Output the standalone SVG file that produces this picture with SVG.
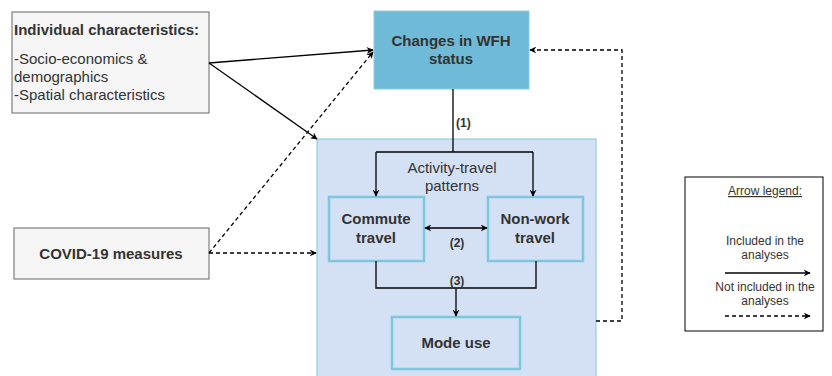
<svg xmlns="http://www.w3.org/2000/svg" width="832" height="376" viewBox="0 0 832 376">
<style>
text{font-family:"Liberation Sans",Arial,sans-serif;fill:#333}
.b{font-weight:bold;font-size:15px}
.r{font-size:15px}
.s{font-size:12px;font-weight:bold}
.l{font-size:12px}
.c{text-anchor:middle}
.ln{fill:none;stroke:#000;stroke-width:1.3}
.d{stroke-dasharray:4 3}
.inner{fill:none;stroke:#7ec5de;stroke-width:2.5}
</style>
<defs>
<marker id="a" viewBox="0 0 10 10" refX="9" refY="5" markerWidth="7" markerHeight="7" orient="auto" markerUnits="userSpaceOnUse">
<path d="M0,0 L10,5 L0,10 L3,5 Z" fill="#000"/>
</marker>
<marker id="as" viewBox="0 0 10 10" refX="1" refY="5" markerWidth="7" markerHeight="7" orient="auto" markerUnits="userSpaceOnUse">
<path d="M10,0 L0,5 L10,10 L7,5 Z" fill="#000"/>
</marker>
</defs>
<rect width="832" height="376" fill="#fff"/>
<g id="activity-travel">
<rect x="317" y="139" width="279" height="245" fill="#d4e1f5" stroke="#7ec5de" stroke-width="1"/>
<text class="r c" x="452" y="173">Activity-travel</text>
<text class="r c" x="452" y="191">patterns</text>
</g>
<g id="individual">
<rect x="12" y="12" width="197" height="101" fill="#f5f5f5" stroke="#666" stroke-width="1"/>
<text class="b" x="14" y="35">Individual characteristics:</text>
<text class="r" x="14" y="64">-Socio-economics &amp;</text>
<text class="r" x="14" y="82">demographics</text>
<text class="r" x="14" y="100">-Spatial characteristics</text>
</g>
<g id="wfh">
<rect x="374" y="11" width="155" height="78" fill="#6fbad6" stroke="#8fcbe2" stroke-width="1"/>
<text class="b c" x="451" y="46">Changes in WFH</text>
<text class="b c" x="451" y="64">status</text>
</g>
<g id="covid">
<rect x="14" y="228" width="195" height="51" fill="#f5f5f5" stroke="#666" stroke-width="1"/>
<text class="b c" x="111" y="259">COVID-19 measures</text>
</g>
<g id="commute">
<rect x="329" y="197" width="95" height="64" class="inner"/>
<text class="b c" x="376" y="224">Commute</text>
<text class="b c" x="376" y="243">travel</text>
</g>
<g id="nonwork">
<rect x="488" y="197" width="95" height="64" class="inner"/>
<text class="b c" x="535" y="224">Non-work</text>
<text class="b c" x="535" y="243">travel</text>
</g>
<g id="modeuse">
<rect x="392" y="317" width="128" height="52" class="inner"/>
<text class="b c" x="456" y="348">Mode use</text>
</g>
<g id="legend">
<rect x="685" y="177" width="138" height="154" fill="#fff" stroke="#000" stroke-width="1"/>
<text class="l c" x="765" y="195" text-decoration="underline">Arrow legend:</text>
<text class="l c" x="765" y="245">Included in the</text>
<text class="l c" x="765" y="259">analyses</text>
<line x1="725" y1="273" x2="810" y2="273" class="ln" marker-end="url(#a)"/>
<text class="l c" x="765" y="291">Not included in the</text>
<text class="l c" x="765" y="305">analyses</text>
<line x1="725" y1="316" x2="810" y2="316" class="ln d" marker-end="url(#a)"/>
</g>
<g id="connectors">
<line x1="209" y1="63" x2="373" y2="50" class="ln" marker-end="url(#a)"/>
<line x1="209" y1="63" x2="317" y2="139" class="ln" marker-end="url(#a)"/>
<line x1="209" y1="253" x2="373" y2="52" class="ln d" marker-end="url(#a)"/>
<line x1="209" y1="253" x2="316" y2="253" class="ln d" marker-end="url(#a)"/>
<polyline points="596,321 622,321 622,50 530,50" class="ln d" marker-end="url(#a)"/>
<line x1="453" y1="89" x2="453" y2="152" class="ln"/>
<polyline points="376,152 533,152" class="ln"/>
<line x1="376" y1="152" x2="376" y2="196" class="ln" marker-end="url(#a)"/>
<line x1="533" y1="152" x2="533" y2="196" class="ln" marker-end="url(#a)"/>
<line x1="425" y1="228" x2="487" y2="228" class="ln" marker-start="url(#as)" marker-end="url(#a)"/>
<polyline points="376,261 376,288 536,288 536,261" class="ln"/>
<line x1="456" y1="288" x2="456" y2="316" class="ln" marker-end="url(#a)"/>
<text class="s" x="456" y="127">(1)</text>
<text class="s c" x="457" y="247">(2)</text>
<text class="s c" x="457" y="285">(3)</text>
</g>
</svg>
